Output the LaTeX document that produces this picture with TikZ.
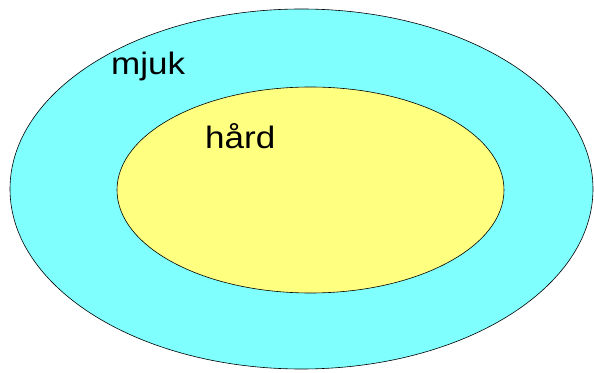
\documentclass[tikz,border=0pt]{standalone}
\usepackage{fontspec}
\setmainfont{Liberation Sans}
\usepackage{tikz}
\usetikzlibrary{positioning}
\definecolor{mjukfill}{HTML}{80FFFF}
\definecolor{hardfill}{HTML}{FFFF80}
\tikzset{
  layer/.style={draw=black, line width=0.6pt},
  lbl/.style={inner sep=0pt, anchor=base west, font=\fontsize{31}{37}\selectfont, xscale=1.13, transform shape},
}
\begin{document}
\begin{tikzpicture}[x=1pt, y=1pt]
\useasboundingbox (0,0) rectangle (594,372);
% Outer layer
\filldraw[layer, fill=mjukfill] (301.5,183) ellipse [x radius=291.5, y radius=180];
% Inner layer
\filldraw[layer, fill=hardfill] (310.5,182) ellipse [x radius=193.5, y radius=103];
% Labels
\node[lbl] (mjuk) at (111,297) {mjuk};
\node[lbl] (hard) at (205,223) {hård};
\end{tikzpicture}
\end{document}
